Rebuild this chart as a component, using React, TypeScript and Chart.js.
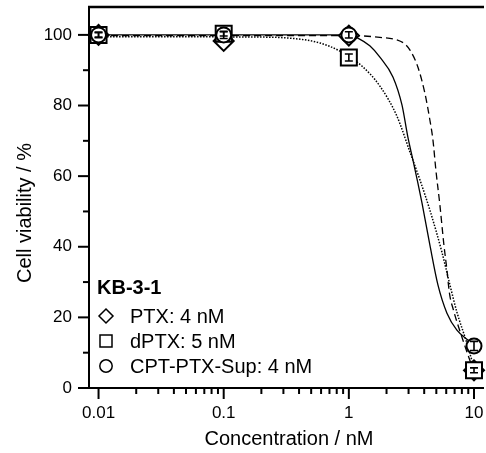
import React, { useEffect, useRef } from 'react';
import { Chart, registerables } from 'chart.js';

Chart.register(...registerables);

// Measured points
const concentrations = [0.01, 0.1, 1, 10];
const ptxViability = [100, 98.3, 99.8, 5];
const dptxViability = [100, 100.3, 93.6, 5];
const supViability = [100, 100, 100, 11.9];
const ptxError = [0, 0, 0, 0];
const dptxError = [0.6, 0.6, 1.0, 0.7];
const supError = [0.8, 1.0, 0.9, 1.3];

// Fitted curves
const ptxFitConc = [0.0084, 0.162, 0.358, 0.588, 0.849, 1.27, 1.77, 2.42, 3.08, 3.7, 4.44, 5.54, 6.42, 7.3, 8.72, 9.74, 10];
const ptxFitViability = [99.5, 99.4, 99.0, 97.7, 95.4, 91.2, 85.5, 77.0, 66.8, 58.9, 50.4, 38.5, 29.2, 21.5, 13.0, 7.2, 6.0];
const dptxFitConc = [0.0084, 0.1, 0.5, 1.0, 1.3, 1.77, 2.42, 2.81, 3.08, 3.56, 4.05, 4.44, 4.7, 4.96, 5.34, 5.75, 6.08, 6.36, 6.85, 8.15, 9.43, 10];
const dptxFitViability = [99.8, 99.8, 99.8, 99.8, 99.7, 99.3, 98.6, 97.4, 95.7, 90.9, 83.5, 75.9, 70.2, 61.7, 51.8, 40.5, 33.4, 26.9, 22.1, 13.6, 7.1, 4.8];
const supFitConc = [0.0084, 0.1, 0.5, 1.0, 1.18, 1.47, 1.77, 2.25, 2.66, 2.96, 3.25, 3.56, 3.84, 4.44, 5.15, 6.08, 7.3, 8.94, 10];
const supFitViability = [100, 100, 100, 100, 99.1, 96.9, 93.7, 88.1, 80.1, 71.1, 64.6, 58.1, 52.4, 40.5, 29.2, 21.2, 16.4, 13.6, 12.2];

// Axes
const xTickValues = [0.01, 0.1, 1, 10];
const xTickLabels = ['0.01', '0.1', '1', '10'];
const yTickValues = [0, 20, 40, 60, 80, 100];
const yTickLabels = ['0', '20', '40', '60', '80', '100'];
const xMin = 0.00839;
const xMax = 12.02;
const yMin = 0;
const yMax = 107.9;

const legendTitle = 'KB-3-1';
const legendLabels = ['PTX: 4 nM', 'dPTX: 5 nM', 'CPT-PTX-Sup: 4 nM'];
const legendShapes = ['diamond', 'square', 'circle'];
const xTitle = 'Concentration / nM';
const yTitle = 'Cell viability / %';

const FONT = "'Liberation Sans', Arial, Helvetica, sans-serif";

const toPoints = (xs: number[], ys: number[]) => xs.map((x, i) => ({ x, y: ys[i] }));

const errorSeries = [
  { values: ptxViability, errors: ptxError },
  { values: dptxViability, errors: dptxError },
  { values: supViability, errors: supError },
];

function drawShape(ctx: CanvasRenderingContext2D, shape: string, x: number, y: number) {
  ctx.beginPath();
  if (shape === 'diamond') {
    const r = 7;
    ctx.moveTo(x, y - r);
    ctx.lineTo(x + r, y);
    ctx.lineTo(x, y + r);
    ctx.lineTo(x - r, y);
    ctx.closePath();
  } else if (shape === 'square') {
    const h = 6;
    ctx.rect(x - h, y - h, 2 * h, 2 * h);
  } else {
    ctx.arc(x, y, 6.2, 0, Math.PI * 2);
  }
  ctx.fillStyle = '#fff';
  ctx.fill();
  ctx.stroke();
}

const zeroPadding = (s: any) => {
  s.paddingTop = 0;
  s.paddingBottom = 0;
  s.paddingLeft = 0;
  s.paddingRight = 0;
};

const overlayPlugin = {
  id: 'overlayPlugin',
  afterDatasetsDraw(chart: any) {
    const ctx = chart.ctx as CanvasRenderingContext2D;
    const xs = chart.scales.x;
    const ys = chart.scales.y;
    ctx.save();
    ctx.strokeStyle = '#000';
    ctx.lineWidth = 1.6;
    errorSeries.forEach((s) => {
      concentrations.forEach((c, i) => {
        const e = s.errors[i];
        if (!e) return;
        const px = xs.getPixelForValue(c);
        const y1 = ys.getPixelForValue(s.values[i] + e);
        const y2 = ys.getPixelForValue(s.values[i] - e);
        ctx.beginPath();
        ctx.moveTo(px, y1);
        ctx.lineTo(px, y2);
        ctx.moveTo(px - 4, y1);
        ctx.lineTo(px + 4, y1);
        ctx.moveTo(px - 4, y2);
        ctx.lineTo(px + 4, y2);
        ctx.stroke();
      });
    });
    ctx.restore();
  },
  afterDraw(chart: any) {
    const ctx = chart.ctx as CanvasRenderingContext2D;
    const { left, top, right, bottom } = chart.chartArea;
    const xs = chart.scales.x;
    const ys = chart.scales.y;
    ctx.save();
    ctx.strokeStyle = '#000';
    ctx.lineCap = 'butt';
    ctx.lineWidth = 2;
    ctx.beginPath();
    ctx.moveTo(left, top - 1);
    ctx.lineTo(left, bottom);
    ctx.lineTo(right, bottom);
    ctx.stroke();
    ctx.lineWidth = 2.5;
    ctx.beginPath();
    ctx.moveTo(left - 1, top);
    ctx.lineTo(right, top);
    ctx.stroke();
    ctx.lineWidth = 2;
    for (let v = yMin; v <= 100; v += 10) {
      const py = ys.getPixelForValue(v);
      const len = v % 20 === 0 ? 11 : 6;
      ctx.beginPath();
      ctx.moveTo(left - len, py);
      ctx.lineTo(left, py);
      ctx.stroke();
    }
    for (let d = -2; d <= 1; d++) {
      for (let k = 1; k <= 9; k++) {
        const v = k * Math.pow(10, d);
        if (v < xMin || v > xMax) continue;
        const px = xs.getPixelForValue(v);
        const len = k === 1 ? 11 : 6;
        ctx.beginPath();
        ctx.moveTo(px, bottom);
        ctx.lineTo(px, bottom + len);
        ctx.stroke();
      }
    }
    ctx.fillStyle = '#000';
    ctx.font = `20px ${FONT}`;
    ctx.textAlign = 'center';
    ctx.textBaseline = 'alphabetic';
    ctx.fillText(xTitle, 289, 445);
    ctx.save();
    ctx.translate(31, 213);
    ctx.rotate(-Math.PI / 2);
    ctx.fillText(yTitle, 0, 0);
    ctx.restore();
    ctx.textAlign = 'left';
    ctx.font = `bold 20px ${FONT}`;
    ctx.fillText(legendTitle, 97, 293.5);
    ctx.font = `20px ${FONT}`;
    ctx.lineWidth = 1.5;
    legendLabels.forEach((lab, i) => {
      const cy = 316 + i * 25;
      drawShape(ctx, legendShapes[i], 106, cy);
      ctx.fillStyle = '#000';
      ctx.fillText(lab, 130, cy + 7.2);
    });
    ctx.restore();
  },
};

export default function App() {
  const canvasRef = useRef<HTMLCanvasElement | null>(null);

  useEffect(() => {
    if (!canvasRef.current) return;
    const markerCommon = {
      showLine: false,
      pointBorderColor: '#000',
      pointBackgroundColor: '#fff',
      pointBorderWidth: 2,
      borderColor: '#000',
      clip: false as any,
    };
    const curveCommon = {
      borderColor: '#000',
      pointRadius: 0,
      fill: false,
      cubicInterpolationMode: 'monotone' as const,
      order: 10,
    };
    const chart = new Chart(canvasRef.current, {
      type: 'line',
      data: {
        datasets: [
          { ...curveCommon, label: 'PTX fit', data: toPoints(ptxFitConc, ptxFitViability), borderWidth: 1.5, borderDash: [1.5, 1.5] },
          { ...curveCommon, label: 'dPTX fit', data: toPoints(dptxFitConc, dptxFitViability), borderWidth: 1.3, borderDash: [7, 4] },
          { ...curveCommon, label: 'CPT-PTX-Sup fit', data: toPoints(supFitConc, supFitViability), borderWidth: 1.3 },
          { ...markerCommon, label: legendLabels[0], data: toPoints(concentrations, ptxViability), pointStyle: 'rectRot', pointRadius: 10, order: 3 },
          { ...markerCommon, label: legendLabels[1], data: toPoints(concentrations, dptxViability), pointStyle: 'rect', pointRadius: 11.3, order: 2 },
          { ...markerCommon, label: legendLabels[2], data: toPoints(concentrations, supViability), pointStyle: 'circle', pointRadius: 7.5, order: 1 },
        ] as any,
      },
      options: {
        animation: false,
        responsive: false,
        devicePixelRatio: 1,
        layout: { autoPadding: false, padding: { top: 7, right: 2, left: 0, bottom: 0 } },
        plugins: { legend: { display: false }, tooltip: { enabled: false } },
        scales: {
          x: {
            type: 'logarithmic',
            min: xMin,
            max: xMax,
            grid: { display: false, drawTicks: false },
            border: { display: false },
            afterBuildTicks: (s: any) => {
              s.ticks = xTickValues.map((v) => ({ value: v }));
            },
            afterFit: (s: any) => {
              s.height = 65;
              zeroPadding(s);
            },
            ticks: {
              autoSkip: false,
              maxRotation: 0,
              padding: 15,
              color: '#000',
              font: { family: FONT, size: 17 },
              callback: (v: any) => {
                const i = xTickValues.findIndex((t) => Math.abs(t - Number(v)) < 1e-9);
                return i >= 0 ? xTickLabels[i] : '';
              },
            },
          },
          y: {
            type: 'linear',
            min: yMin,
            max: yMax,
            grid: { display: false, drawTicks: false },
            border: { display: false },
            afterBuildTicks: (s: any) => {
              s.ticks = yTickValues.map((v) => ({ value: v }));
            },
            afterFit: (s: any) => {
              s.width = 89;
              zeroPadding(s);
            },
            ticks: {
              autoSkip: false,
              padding: 17,
              color: '#000',
              font: { family: FONT, size: 17 },
              callback: (v: any) => {
                const i = yTickValues.indexOf(Number(v));
                return i >= 0 ? yTickLabels[i] : '';
              },
            },
          },
        },
      } as any,
      plugins: [overlayPlugin],
    });
    return () => chart.destroy();
  }, []);

  return (
    <div style={{ position: 'absolute', left: 0, top: 0, width: 486, height: 453, background: '#fff' }}>
      <canvas ref={canvasRef} width={486} height={453} style={{ width: 486, height: 453 }} />
    </div>
  );
}
